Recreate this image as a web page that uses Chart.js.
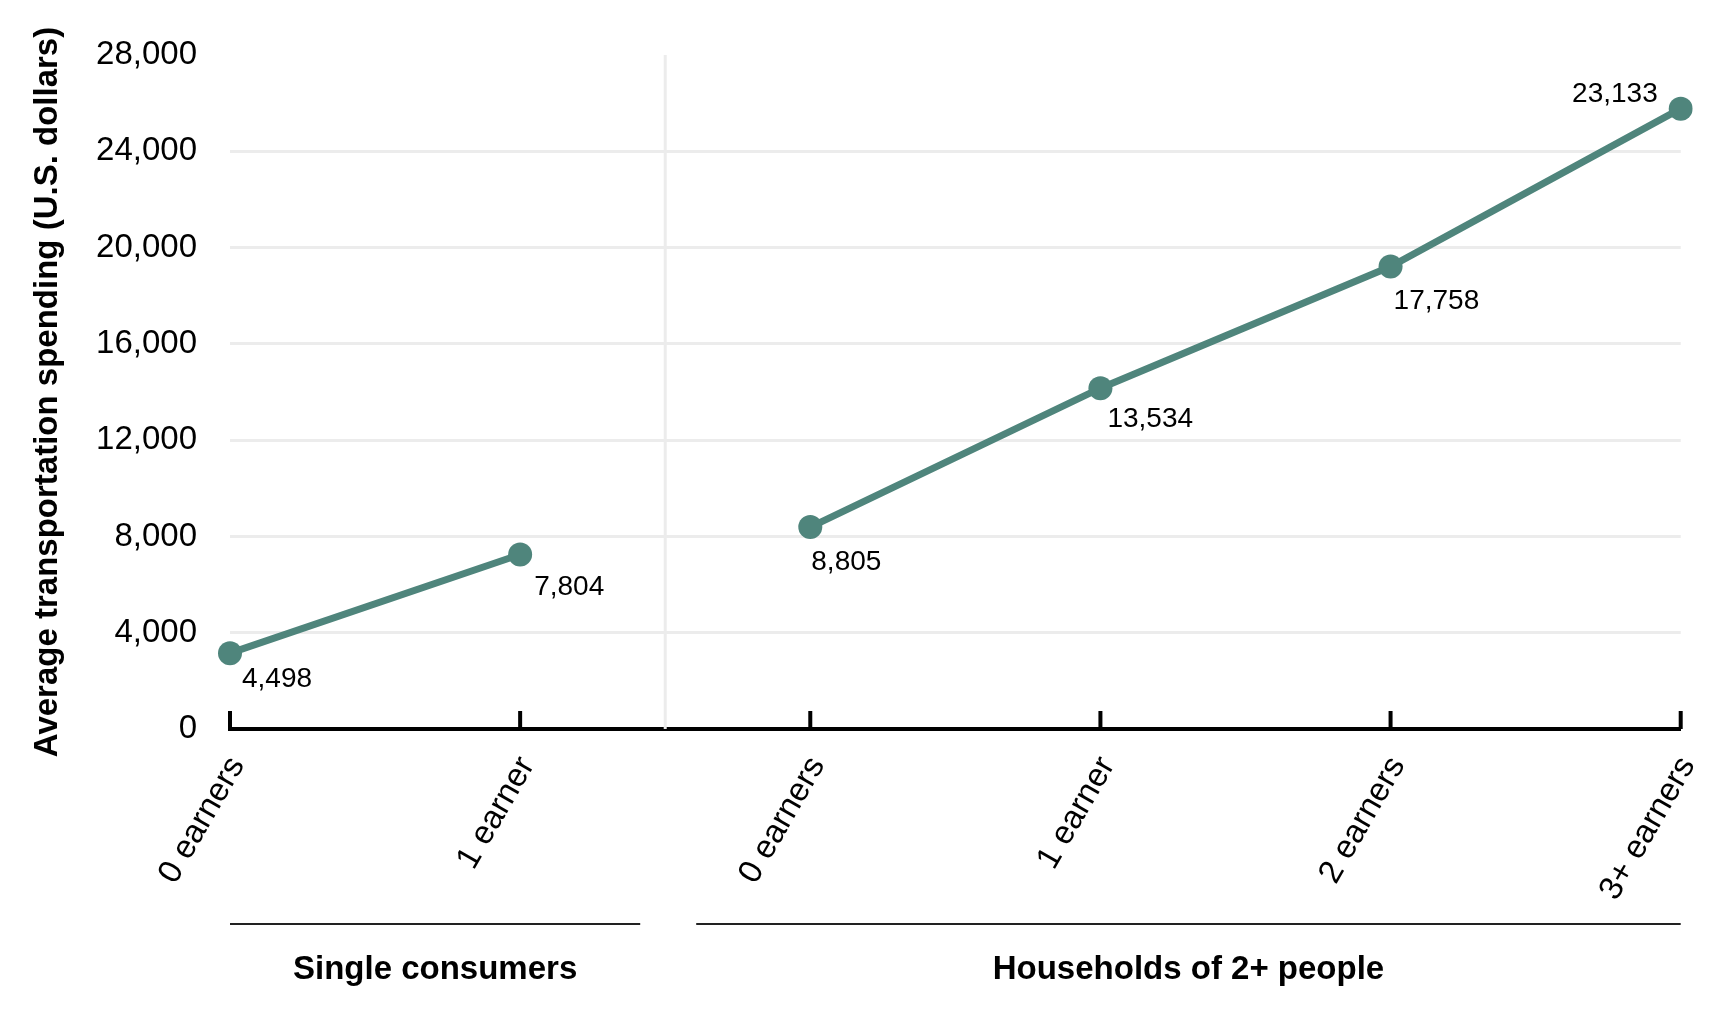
<!DOCTYPE html>
<html>
<head>
<meta charset="utf-8">
<title>Transportation spending by earners</title>
<script src="https://cdn.jsdelivr.net/npm/chart.js@4.4.1/dist/chart.umd.min.js"></script>
<style>
  html, body { margin: 0; padding: 0; background: #fff; }
  canvas { display: block; }
</style>
</head>
<body>
<canvas id="chart" width="1728" height="1016"></canvas>
<script>
// categories along the x axis, grouped
const categories = ['0 earners', '1 earner', '0 earners', '1 earner', '2 earners', '3+ earners'];
const groupNames = ['Single consumers', 'Households of 2+ people'];
const groupSizes = [2, 4];

// point heights as drawn in the picture
const spending = [3150, 7250, 8390, 14160, 19210, 25770];
// the numbers printed beside the points
const pointLabels = ['4,498', '7,804', '8,805', '13,534', '17,758', '23,133'];

const yMax = 28000;
const yStep = 4000;

const FONT = '"Liberation Sans", Arial, sans-serif';
const TEAL = '#4f857c';
const GRID = '#ececec';

Chart.defaults.font.family = FONT;
Chart.defaults.color = '#000';

// label placement around each point: [dx, dy to cap top, align]
const labelOffsets = [[12, 14, 'left'], [14, 21, 'left'], [1, 23, 'left'], [7, 19, 'left'], [3, 22, 'left'], [-23, -27, 'right']];

const decorations = {
  id: 'decorations',
  beforeDatasetsDraw(chart) {
    const { ctx, chartArea, scales: { x } } = chart;
    const sepX = (x.getPixelForValue(groupSizes[0] - 1) + x.getPixelForValue(groupSizes[0])) / 2;
    ctx.save();
    ctx.strokeStyle = GRID;
    ctx.lineWidth = 3;
    ctx.beginPath();
    ctx.moveTo(sepX, chartArea.top);
    ctx.lineTo(sepX, chartArea.bottom);
    ctx.stroke();
    ctx.restore();
  },
  afterDraw(chart) {
    const { ctx, chartArea, scales: { x } } = chart;
    ctx.save();

    // tick marks pointing up from the axis
    ctx.strokeStyle = '#000';
    ctx.lineWidth = 4;
    categories.forEach((c, i) => {
      const px = x.getPixelForValue(i);
      ctx.beginPath();
      ctx.moveTo(px, chartArea.bottom);
      ctx.lineTo(px, chartArea.bottom - 18);
      ctx.stroke();
    });

    // point value labels
    const meta = chart.getDatasetMeta(0);
    ctx.fillStyle = '#000';
    ctx.font = '28px ' + FONT;
    ctx.textBaseline = 'alphabetic';
    meta.data.forEach((pt, i) => {
      const [dx, dy, align] = labelOffsets[i];
      ctx.textAlign = align;
      ctx.fillText(pointLabels[i], pt.x + dx, pt.y + dy + 20);
    });

    // group brackets and names
    const sepX = (x.getPixelForValue(groupSizes[0] - 1) + x.getPixelForValue(groupSizes[0])) / 2;
    const spans = [
      [x.getPixelForValue(0), sepX - 25],
      [sepX + 31, x.getPixelForValue(categories.length - 1)]
    ];
    ctx.strokeStyle = '#222';
    ctx.lineWidth = 2;
    ctx.font = 'bold 33px ' + FONT;
    ctx.textAlign = 'center';
    ctx.textBaseline = 'middle';
    spans.forEach(([a, b], i) => {
      ctx.beginPath();
      ctx.moveTo(a, 924);
      ctx.lineTo(b, 924);
      ctx.stroke();
      ctx.fillText(groupNames[i], (a + b) / 2, 970);
    });
    ctx.restore();
  }
};

new Chart(document.getElementById('chart'), {
  type: 'line',
  data: {
    labels: categories,
    datasets: [{
      data: spending,
      borderColor: TEAL,
      backgroundColor: TEAL,
      borderWidth: 7,
      pointRadius: 12,
      pointHoverRadius: 12,
      pointBorderWidth: 0,
      pointBackgroundColor: TEAL,
      segment: {
        borderColor: c => c.p0DataIndex === groupSizes[0] - 1 ? 'rgba(0,0,0,0)' : TEAL
      }
    }]
  },
  options: {
    responsive: false,
    animation: false,
    layout: { padding: { top: 55, right: 34, bottom: 0, left: 0 } },
    plugins: {
      legend: { display: false },
      tooltip: { enabled: false }
    },
    scales: {
      x: {
        offset: false,
        grid: { display: false },
        border: { display: true, color: '#000', width: 4 },
        ticks: {
          autoSkip: false,
          minRotation: 60,
          maxRotation: 60,
          padding: 13,
          labelOffset: 7,
          color: '#000',
          font: { size: 33 }
        },
        afterFit: s => { s.height = 287; }
      },
      y: {
        min: 0,
        max: yMax,
        border: { display: false },
        grid: {
          color: c => c.tick.value === yMax ? 'rgba(0,0,0,0)' : GRID,
          lineWidth: 3,
          drawTicks: false
        },
        ticks: {
          stepSize: yStep,
          padding: 33,
          color: '#000',
          font: { size: 33 }
        },
        title: {
          display: true,
          text: 'Average transportation spending (U.S. dollars)',
          color: '#000',
          font: { size: 33, weight: 'bold' },
          padding: { top: 28, bottom: 0 }
        },
        afterFit: s => { s.width = 230; }
      }
    }
  },
  plugins: [decorations]
});
</script>
</body>
</html>
